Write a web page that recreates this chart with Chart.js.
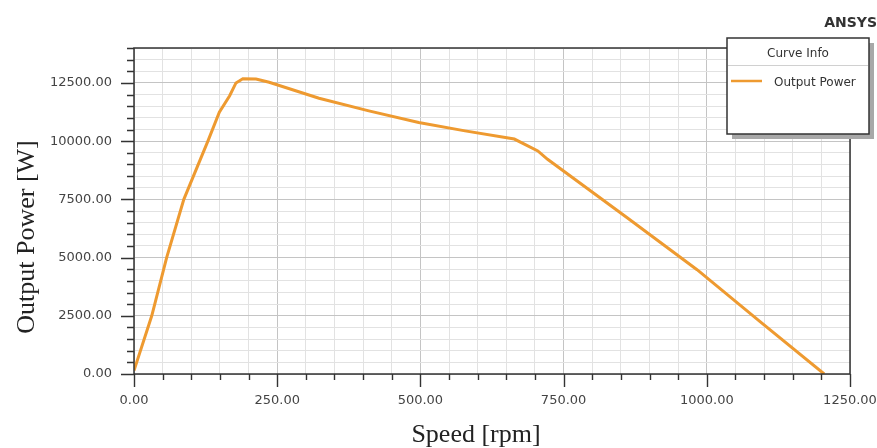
<!DOCTYPE html>
<html>
<head>
<meta charset="utf-8">
<title>Output Power vs Speed</title>
<script src="https://cdn.jsdelivr.net/npm/chart.js@4/dist/chart.umd.min.js"></script>
<style>
  html, body { margin: 0; padding: 0; background: #fff; }
  #wrap { width: 877px; height: 448px; position: relative; overflow: hidden; }
</style>
</head>
<body>
<div id="wrap"><canvas id="chart" width="877" height="448"></canvas></div>
<script>
// ── Data ─────────────────────────────────────────────
const SPEED = [0, 31, 57, 87, 129, 149, 167, 178, 190, 213, 236, 323, 410, 497, 578, 664, 705, 722, 861, 983, 1093, 1205];
const POWER = [150, 2500, 5000, 7500, 10000, 11240, 11950, 12500, 12680, 12670, 12530, 11840, 11300, 10800, 10440, 10090, 9580, 9220, 6710, 4480, 2250, 0];

const SERIES_LABEL = 'Output Power';
const LEGEND_TITLE = 'Curve Info';
const BRAND = 'ANSYS';
const X_TITLE = 'Speed [rpm]';
const Y_TITLE = 'Output Power [W]';

// axis ranges / tick steps
const X_MIN = 0, X_MAX = 1250, X_MAJOR = 250, X_MINOR = 50;
const Y_MIN = 0, Y_MAX = 14000, Y_MAJOR = 2500, Y_MINOR = 500;

const ORANGE = '#ee9a30';
const FRAME = '#333333';

function stepTicks(min, max, step) {
  const out = [];
  for (let v = min; v <= max + 1e-9; v += step) out.push({ value: v });
  return out;
}
const isMajor = (v, step) => Math.abs(v / step - Math.round(v / step)) < 1e-6;

// ── Frame, tick marks, titles, legend box ────────────
const decor = {
  id: 'decor',
  afterDatasetsDraw(chart) {
    const { ctx, chartArea: a, scales: { x, y } } = chart;
    ctx.save();

    // plot frame
    ctx.strokeStyle = FRAME;
    ctx.lineWidth = 1.5;
    ctx.strokeRect(a.left, a.top, a.right - a.left, a.bottom - a.top);

    // tick marks
    ctx.lineWidth = 1.4;
    ctx.beginPath();
    x.ticks.forEach(t => {
      const px = Math.round(x.getPixelForValue(t.value)) + 0.5;
      const len = isMajor(t.value, X_MAJOR) ? 13 : 6;
      ctx.moveTo(px, a.bottom);
      ctx.lineTo(px, a.bottom + len);
    });
    y.ticks.forEach(t => {
      const py = Math.round(y.getPixelForValue(t.value)) + 0.5;
      const len = isMajor(t.value, Y_MAJOR) ? 13 : 7;
      ctx.moveTo(a.left, py);
      ctx.lineTo(a.left - len, py);
    });
    ctx.stroke();

    // axis titles
    ctx.fillStyle = '#222';
    ctx.font = '26px "Liberation Serif", serif';
    ctx.textAlign = 'center';
    ctx.textBaseline = 'alphabetic';
    ctx.fillText(X_TITLE, 476, 442);
    ctx.save();
    ctx.translate(34, 237);
    ctx.rotate(-Math.PI / 2);
    ctx.fillText(Y_TITLE, 0, 0);
    ctx.restore();

    // brand
    ctx.font = 'bold 14px "DejaVu Sans", sans-serif';
    ctx.textAlign = 'right';
    ctx.fillStyle = '#333';
    ctx.fillText(BRAND, 877, 27);

    // legend box
    const bx = 727, by = 38, bw = 142, bh = 96;
    ctx.fillStyle = '#a8a8a8';
    ctx.fillRect(bx + 5, by + 5, bw, bh);
    ctx.fillStyle = '#fff';
    ctx.fillRect(bx, by, bw, bh);
    ctx.strokeStyle = FRAME;
    ctx.lineWidth = 1.5;
    ctx.strokeRect(bx, by, bw, bh);

    ctx.font = '12px "DejaVu Sans", sans-serif';
    ctx.fillStyle = '#333';
    ctx.textAlign = 'center';
    ctx.textBaseline = 'middle';
    ctx.fillText(LEGEND_TITLE, 798, 54);

    ctx.strokeStyle = '#d0d0d0';
    ctx.lineWidth = 1;
    ctx.beginPath();
    ctx.moveTo(bx + 1, 65.5);
    ctx.lineTo(bx + bw - 1, 65.5);
    ctx.stroke();

    const ds = chart.data.datasets[0];
    ctx.strokeStyle = ds.borderColor;
    ctx.lineWidth = 2.5;
    ctx.beginPath();
    ctx.moveTo(731, 81);
    ctx.lineTo(762, 81);
    ctx.stroke();

    ctx.fillStyle = '#333';
    ctx.textAlign = 'left';
    ctx.fillText(ds.label, 774, 83);

    ctx.restore();
  }
};

new Chart(document.getElementById('chart'), {
  type: 'line',
  data: {
    datasets: [{
      label: SERIES_LABEL,
      data: SPEED.map((s, i) => ({ x: s, y: POWER[i] })),
      borderColor: ORANGE,
      borderWidth: 3,
      pointRadius: 0,
      tension: 0,
      fill: false,
    }],
  },
  options: {
    responsive: false,
    animation: false,
    layout: { padding: { top: 48, right: 27, left: 0, bottom: 0 } },
    plugins: {
      legend: { display: false },
      tooltip: { enabled: false },
    },
    scales: {
      x: {
        type: 'linear',
        min: X_MIN,
        max: X_MAX,
        afterBuildTicks: s => { s.ticks = stepTicks(X_MIN, X_MAX, X_MINOR); },
        afterFit: s => { s.height = 74; s.paddingLeft = 0; s.paddingRight = 0; },
        border: { display: false },
        grid: {
          drawTicks: false,
          color: c => isMajor(c.tick.value, X_MAJOR) ? '#c4c4c4' : '#e2e2e2',
          lineWidth: 1,
        },
        ticks: {
          autoSkip: false,
          maxRotation: 0,
          padding: 19,
          color: '#444',
          font: { family: "'DejaVu Sans', sans-serif", size: 13 },
          callback: v => isMajor(v, X_MAJOR) ? v.toFixed(2) : '',
        },
      },
      y: {
        type: 'linear',
        min: Y_MIN,
        max: Y_MAX,
        afterBuildTicks: s => { s.ticks = stepTicks(Y_MIN, Y_MAX, Y_MINOR); },
        afterFit: s => { s.width = 134; s.paddingTop = 0; s.paddingBottom = 0; },
        border: { display: false },
        grid: {
          drawTicks: false,
          color: c => isMajor(c.tick.value, Y_MAJOR) ? '#c4c4c4' : '#e2e2e2',
          lineWidth: 1,
        },
        ticks: {
          autoSkip: false,
          padding: 22,
          color: '#444',
          font: { family: "'DejaVu Sans', sans-serif", size: 13 },
          callback: v => (isMajor(v, Y_MAJOR) && v < Y_MAX) ? v.toFixed(2) : '',
        },
      },
    },
  },
  plugins: [decor],
});
</script>
</body>
</html>
